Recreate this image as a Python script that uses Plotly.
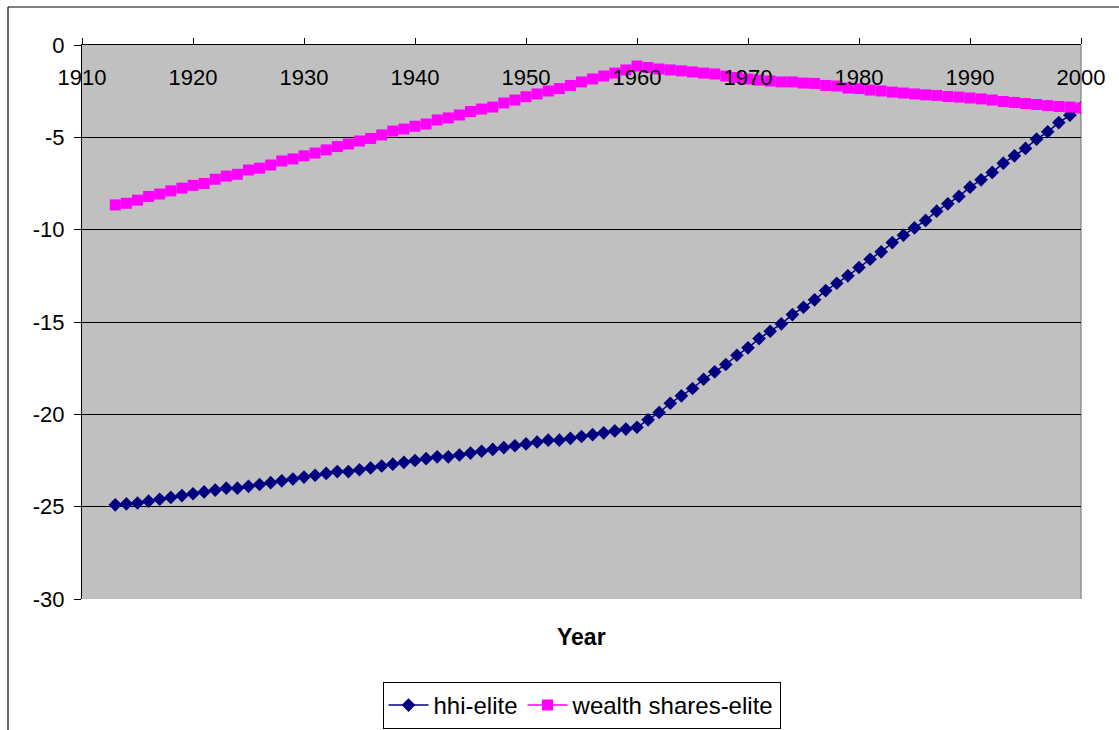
import plotly.graph_objects as go

years = list(range(1913, 2001))

hhi_elite = [
    -24.9, -24.85, -24.8, -24.7, -24.6, -24.5, -24.4, -24.3, -24.2, -24.1,
    -24.0, -24.0, -23.9, -23.8, -23.7, -23.6, -23.5, -23.4, -23.3, -23.2,
    -23.1, -23.1, -23.0, -22.9, -22.8, -22.7, -22.6, -22.5, -22.4, -22.3,
    -22.3, -22.2, -22.1, -22.0, -21.9, -21.8, -21.7, -21.6, -21.5, -21.4,
    -21.4, -21.3, -21.2, -21.1, -21.0, -20.9, -20.8, -20.7,
    -20.3, -19.9, -19.4, -19.0, -18.6, -18.1, -17.7, -17.3, -16.8, -16.4,
    -15.9, -15.5, -15.1, -14.6, -14.2, -13.8, -13.3, -12.9, -12.5, -12.05,
    -11.6, -11.2, -10.7, -10.3, -9.9, -9.5, -9.0, -8.6, -8.2, -7.7,
    -7.3, -6.9, -6.4, -6.0, -5.6, -5.1, -4.7, -4.2, -3.8, -3.4,
]

wealth_shares_elite = [
    -8.66, -8.57, -8.4, -8.2, -8.07, -7.9, -7.75, -7.6, -7.5, -7.27,
    -7.1, -7.0, -6.77, -6.67, -6.5, -6.28, -6.17, -6.0, -5.85, -5.68,
    -5.5, -5.36, -5.2, -5.06, -4.87, -4.66, -4.55, -4.4, -4.28, -4.06,
    -3.95, -3.79, -3.6, -3.47, -3.36, -3.14, -2.98, -2.8, -2.65, -2.49,
    -2.36, -2.19, -2.0, -1.84, -1.68, -1.52, -1.35, -1.14,
    -1.22, -1.3, -1.35, -1.4, -1.46, -1.52, -1.57, -1.68, -1.76, -1.84,
    -1.9, -1.95, -2.0, -2.0, -2.06, -2.08, -2.19, -2.22, -2.33, -2.36,
    -2.44, -2.49, -2.55, -2.6, -2.65, -2.7, -2.73, -2.79, -2.82, -2.87,
    -2.92, -2.98, -3.06, -3.11, -3.17, -3.22, -3.28, -3.33, -3.36, -3.41,
]

x_ticks = [1910, 1920, 1930, 1940, 1950, 1960, 1970, 1980, 1990, 2000]
y_ticks = [0, -5, -10, -15, -20, -25, -30]
y_tick_text = ["0", "-5", "-10", "-15", "-20", "-25", "-30"]

FONT = "Arial, Liberation Sans, sans-serif"

fig = go.Figure()
fig.add_trace(go.Scatter(
    x=years, y=hhi_elite, name="hhi-elite", mode="lines+markers",
    line=dict(color="#000080", width=1.5),
    marker=dict(symbol="diamond", size=10.5, color="#000080"),
))
fig.add_trace(go.Scatter(
    x=years, y=wealth_shares_elite, name="wealth shares-elite", mode="lines+markers",
    line=dict(color="#FF00FF", width=1.5),
    marker=dict(symbol="square", size=11, color="#FF00FF"),
))

# outer chart frame (top and left edges visible)
fig.add_shape(type="line", xref="paper", yref="paper",
              x0=(8 - 82) / 999, x1=(1130 - 82) / 999,
              y0=(599 - 7) / 554, y1=(599 - 7) / 554,
              line=dict(color="black", width=1.2))
fig.add_shape(type="line", xref="paper", yref="paper",
              x0=(8 - 82) / 999, x1=(8 - 82) / 999,
              y0=(599 - 7) / 554, y1=(599 - 740) / 554,
              line=dict(color="black", width=1.2))
# plot-area right edge
fig.add_shape(type="line", xref="paper", yref="paper",
              x0=1, x1=1, y0=0, y1=1, line=dict(color="#808080", width=1.2),
              layer="below")

fig.add_annotation(text="<b>Year</b>", xref="paper", yref="paper",
                   x=0.5, y=(599 - 637) / 554, xanchor="center", yanchor="middle",
                   showarrow=False, font=dict(family=FONT, size=23, color="black"))

fig.update_layout(
    width=1119, height=730,
    margin=dict(l=82, r=38, t=45, b=131, autoexpand=False),
    paper_bgcolor="white",
    plot_bgcolor="#C0C0C0",
    font=dict(family=FONT, size=22, color="black"),
    showlegend=True,
    legend=dict(
        orientation="h", x=0.5, xanchor="center",
        y=(599 - 682) / 554, yanchor="top",
        bordercolor="black", borderwidth=1, bgcolor="white",
        font=dict(family=FONT, size=24, color="black"),
        itemwidth=40, tracegroupgap=0,
    ),
    xaxis=dict(
        range=[1910, 2000], side="top", tickvals=x_ticks,
        ticks="outside", ticklen=6, tickcolor="black", tickwidth=1,
        ticklabelposition="inside", ticklabeloverflow="allow",
        ticklabelstandoff=26,
        showline=True, linecolor="black", linewidth=1,
        showgrid=False, zeroline=False,
        tickfont=dict(family=FONT, size=22, color="black"),
    ),
    yaxis=dict(
        range=[-30, 0], tickvals=y_ticks, ticktext=y_tick_text,
        ticks="outside", ticklen=7, tickcolor="black", tickwidth=1,
        ticklabelstandoff=5,
        showline=True, linecolor="black", linewidth=1,
        showgrid=True, gridcolor="black", gridwidth=1,
        zeroline=False,
        tickfont=dict(family=FONT, size=22, color="black"),
    ),
)

fig.write_html("out.html")
